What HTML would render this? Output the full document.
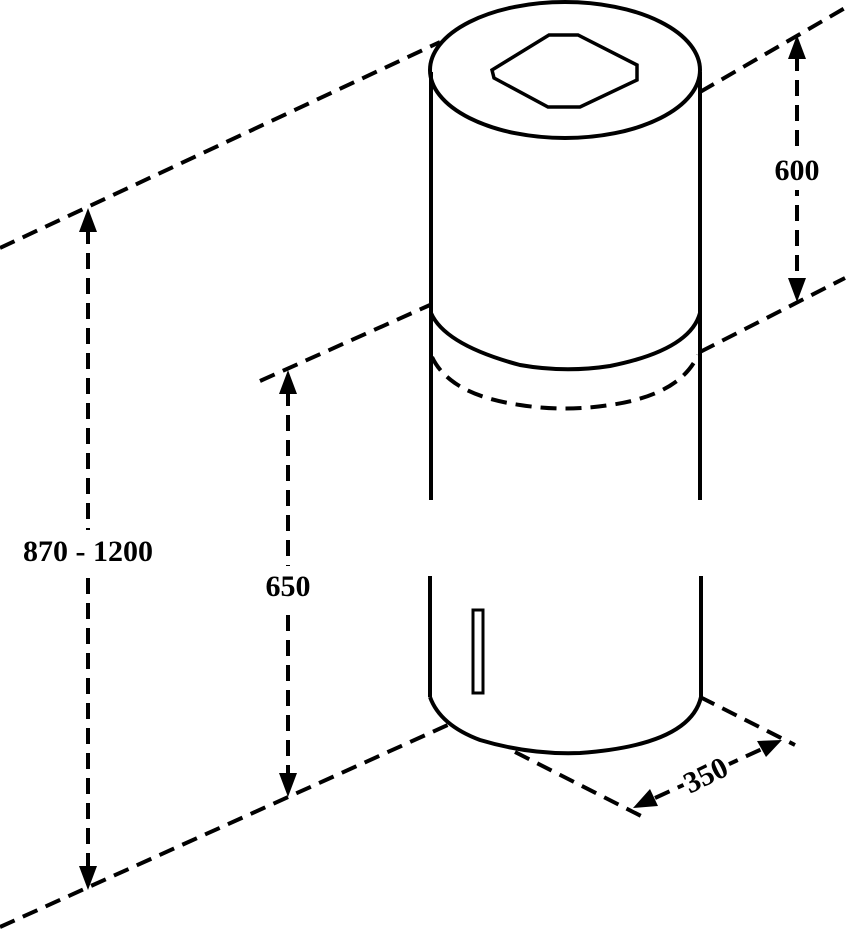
<!DOCTYPE html>
<html><head><style>body{margin:0;background:#fff}svg{display:block}</style></head><body>
<svg width="850" height="935" viewBox="0 0 850 935" xmlns="http://www.w3.org/2000/svg">
<g fill="none" stroke="#000" stroke-width="4" stroke-dasharray="16,9">
<line x1="0" y1="248" x2="440" y2="42"/>
<line x1="700" y1="92" x2="845" y2="8"/>
<line x1="260" y1="381" x2="430" y2="305"/>
<line x1="700" y1="352" x2="845" y2="278"/>
<line x1="0" y1="927" x2="450" y2="724"/>
<line x1="700" y1="697" x2="795" y2="745"/>
<line x1="515" y1="752" x2="645" y2="818"/>
<path d="M432 357 Q 450 395 520 405 Q 565 412 610 405 Q 680 395 698 355"/>
<line x1="88" y1="228" x2="88" y2="870"/>
<line x1="288" y1="390" x2="288" y2="777"/>
<line x1="797" y1="55" x2="797" y2="282"/>
<line x1="655" y1="798" x2="762" y2="749"/>
</g>
<g fill="#fff" stroke="none">
<rect x="20" y="530" width="140" height="40"/>
<rect x="260" y="566" width="56" height="40"/>
<rect x="770" y="150" width="56" height="40"/>
<rect x="680" y="752" width="50" height="40" transform="rotate(-26 705 772)"/>
</g>
<g fill="none" stroke="#000" stroke-width="4">
<ellipse cx="565" cy="70" rx="135" ry="68"/>
<polygon points="492,70 549,35 578,35 637,65 637,80 580,107 548,107 494,78" stroke-width="3.5"/>
<line x1="431" y1="72" x2="431" y2="500"/>
<line x1="700" y1="72" x2="700" y2="500"/>
<line x1="430" y1="576" x2="430" y2="697"/>
<line x1="701" y1="576" x2="701" y2="697"/>
<path d="M431 313 Q 445 345 520 365 Q 565 373 610 366 Q 690 350 700 313"/>
<path d="M430 697 Q 440 725 480 740 Q 530 755 580 753 Q 690 745 701 697"/>
<rect x="473" y="610" width="10" height="83" stroke-width="3"/>
</g>
<g fill="#000">
<polygon points="88,208 79,232 97,232"/>
<polygon points="88,890 79,866 97,866"/>
<polygon points="288,370 279,394 297,394"/>
<polygon points="288,797 279,773 297,773"/>
<polygon points="797,35 788,59 806,59"/>
<polygon points="797,302 788,278 806,278"/>
<polygon points="782,740 757,741 766,757"/>
<polygon points="633,808 650,789 658,806"/>
</g>
<g font-family="Liberation Serif, serif" font-weight="bold" font-size="30" fill="#000" text-anchor="middle">
<text x="88" y="561">870 - 1200</text>
<text x="288" y="596">650</text>
<text x="797" y="180">600</text>
<text x="0" y="0" transform="translate(710,784) rotate(-26)">350</text>
</g>
</svg>
</body></html>
